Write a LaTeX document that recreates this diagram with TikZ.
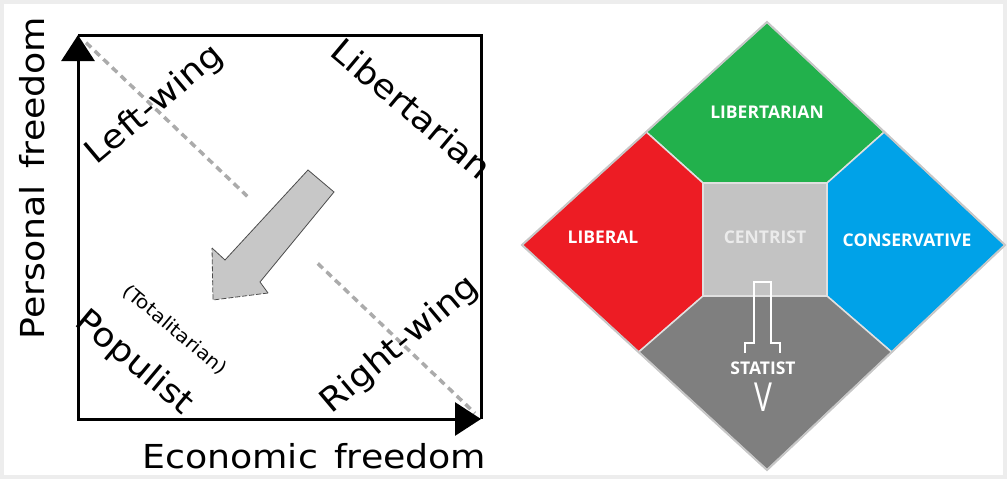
\documentclass[tikz,border=0pt]{standalone}
\usepackage{fontspec}
\usepackage{tikz}
\usetikzlibrary{arrows.meta,calc}
\newfontfamily\axisfont[FakeStretch=1.1,WordSpace=1.4]{DejaVu Sans}
\newfontfamily\tagfont{Open Sans}
\definecolor{paintgreen}{RGB}{34,177,76}
\definecolor{paintred}{RGB}{237,28,36}
\definecolor{paintblue}{RGB}{0,162,232}
\definecolor{paintlight}{RGB}{195,195,195}
\definecolor{paintdark}{RGB}{127,127,127}
\tikzset{
  >=Stealth,
  every node/.append style={inner sep=0pt},
}
\tikzset{
  axislabel/.style={font=\axisfont\fontsize{33}{34}\selectfont},
  diaglabel/.style={font=\axisfont\fontsize{33}{34}\selectfont, anchor=base},
  quadrant/.style={draw=black!12, line width=1.5pt, line join=round},
  tag/.style={font=\tagfont\bfseries\fontsize{17.5}{18}\selectfont, text=white}
}

\begin{document}
\begin{tikzpicture}[
  x=1pt, y=-1pt,
  frame/.style={line width=3pt, line join=miter},
  axis/.style={line width=3pt, line cap=rect, -{Triangle[length=26pt,width=33pt]}},
  guide/.style={black!33, line width=3.5pt, dash pattern=on 7pt off 5pt},
  bigarrow/.style={fill=black!22, draw=black!70, line width=0.8pt, line join=miter},
  pointer/.style={white, line width=2pt, line join=miter}
]
\useasboundingbox (0,0) rectangle (1007,479);
\draw[black!7, line width=8pt] (0,0) rectangle (1007,479);

% left panel: freedom square
\coordinate (nw) at (78,35);
\coordinate (ne) at (481,35);
\coordinate (se) at (481,419);
\coordinate (sw) at (78,419);

\draw[guide] ($(nw)!0.02!(se)$) -- ($(nw)!0.42!(se)$);
\draw[guide] ($(nw)!0.595!(se)$) -- ($(nw)!0.985!(se)$);

\draw[frame] (nw) -- (ne) -- (se);
\draw[axis] (sw) -- (nw);
\draw[axis] (sw) -- (se);

\coordinate (tailA) at (308,170);
\coordinate (tailB) at (334,192);
\coordinate (neckB) at (260,282);
\coordinate (barbB) at (268,293);
\coordinate (tip)   at (213,300);
\coordinate (barbA) at (212,248);
\coordinate (neckA) at (225,260);
\fill[black!22] (tailA) -- (tailB) -- (neckB) -- (barbB) -- (tip) -- (barbA) -- (neckA) -- cycle;
\draw[bigarrow, fill=none] (barbA) -- (neckA) -- (tailA) -- (tailB) -- (neckB) -- (barbB);
\draw[bigarrow, fill=none, dash pattern=on 5pt off 2pt] (barbB) -- (tip) -- (barbA);

\node[axislabel, rotate=90, anchor=base] (personal) at (44,178) {Personal freedom};
\begin{scope}
  \clip (0,0) rectangle (499,479);
  \node[axislabel, anchor=base west] (economic) at (142,468) {Economic freedom};
\end{scope}

\node[diaglabel, rotate=40]  (leftwing)    at (161,112) {Left-wing};
\node[diaglabel, rotate=-40] (libertarian) at (404,118) {Libertarian};
\node[diaglabel, rotate=40]  (rightwing)   at (406,352) {Right-wing};
\node[diaglabel, rotate=-40] (populist)    at (128,370) {Populist};
\node[font=\axisfont\fontsize{18.5}{19}\selectfont, rotate=-40] (totalitarian) at (175,330) {(Totalitarian)};

% right panel: diamond chart
\coordinate (dtop)   at (767,22);
\coordinate (dleft)  at (522,245);
\coordinate (dright) at (1005,245);
\coordinate (dbot)   at (767,470);
\coordinate (ul) at ($(dtop)!0.493!(dleft)$);
\coordinate (ur) at ($(dtop)!0.493!(dright)$);
\coordinate (ll) at ($(dleft)!0.476!(dbot)$);
\coordinate (lr) at ($(dright)!0.476!(dbot)$);
\coordinate (c1) at (703,183);
\coordinate (c2) at (827,183);
\coordinate (c3) at (827,296);
\coordinate (c4) at (703,296);

\filldraw[quadrant, fill=paintgreen] (dtop) -- (ul) -- (c1) -- (c2) -- (ur) -- cycle;
\filldraw[quadrant, fill=paintred]   (dleft) -- (ul) -- (c1) -- (c4) -- (ll) -- cycle;
\filldraw[quadrant, fill=paintblue]  (dright) -- (ur) -- (c2) -- (c3) -- (lr) -- cycle;
\filldraw[quadrant, fill=paintdark]  (dbot) -- (ll) -- (c4) -- (c3) -- (lr) -- cycle;
\filldraw[quadrant, fill=paintlight] (c1) -- (c2) -- (c3) -- (c4) -- cycle;
\draw[black!22, line width=2pt, line join=miter] (dtop) -- (dright) -- (dbot) -- (dleft) -- cycle;

\draw[pointer] (745,353) -- (745,343) -- (754,343) -- (754,282) -- (771,282) -- (771,343) -- (780,343) -- (780,353);

\node[tag] (libtag)  at (767,112) {LIBERTARIAN};
\node[tag] (libltag) at (603,237) {LIBERAL};
\node[tag, text=white!92!black] (centtag) at (765,237) {CENTRIST};
\node[tag] (constag) at (907,240) {CONSERVATIVE};
\node[tag] (stattag) at (763,368) {STATIST};
\node[font=\tagfont\fontsize{40}{40}\selectfont, text=white, xscale=0.75] (vtag) at (763,397) {V};

\end{tikzpicture}
\end{document}
